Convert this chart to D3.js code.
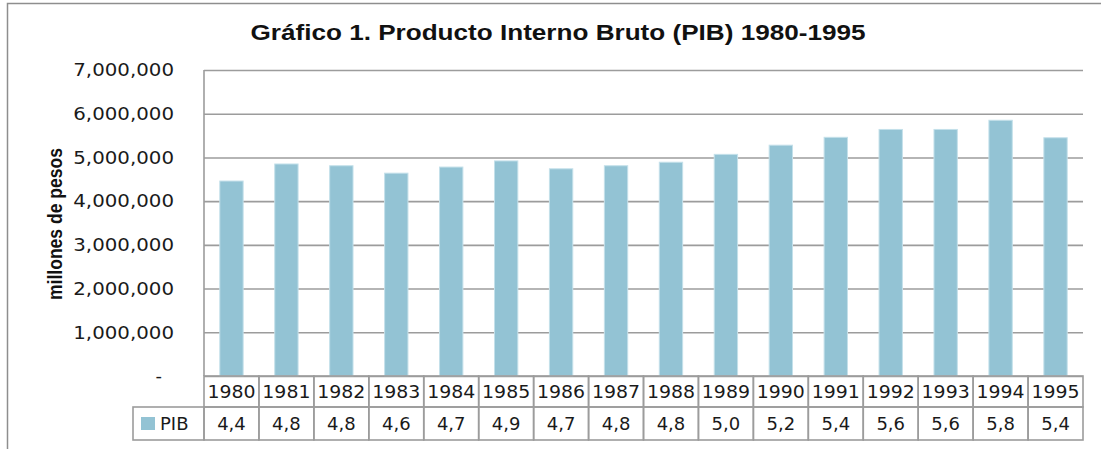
<!DOCTYPE html>
<html>
<head>
<meta charset="utf-8">
<script src="https://cdn.jsdelivr.net/npm/d3@7"></script>
<style>
  body { margin: 0; background: #fff; }
  svg { display: block; }
</style>
</head>
<body>
<svg id="chart" width="1101" height="449"></svg>
<script>
// data
const years = ['1980','1981','1982','1983','1984','1985','1986','1987','1988','1989','1990','1991','1992','1993','1994','1995']
const pib = [4460000, 4850000, 4810000, 4640000, 4780000, 4920000, 4740000, 4810000, 4890000, 5070000, 5280000, 5460000, 5640000, 5640000, 5850000, 5450000]
const tableLabels = ['4,4','4,8','4,8','4,6','4,7','4,9','4,7','4,8','4,8','5,0','5,2','5,4','5,6','5,6','5,8','5,4']
const yTicks = [0, 1000000, 2000000, 3000000, 4000000, 5000000, 6000000, 7000000]
const seriesName = 'PIB'
const title = 'Gráfico 1. Producto Interno Bruto (PIB) 1980-1995'
const yTitle = 'millones de pesos'

const svg = d3.select('#chart')
const grey = '#9c9c9c'
const barColor = '#93c3d4'
const numFont = '"DejaVu Sans", Verdana, sans-serif'

const plot = { left: 204, right: 1083, top: 70, bottom: 376 }
const rowH = [31, 33] // table rows: years, values
const legendLeft = 133

const x = d3.scaleBand().domain(years).range([plot.left, plot.right]).padding(0)
const y = d3.scaleLinear().domain([0, 7000000]).range([plot.bottom, plot.top])

// the original text is a bit wider than the fonts we have
function stretch(sel, k) {
  sel.each(function () {
    const w = this.getComputedTextLength()
    d3.select(this).attr('textLength', w * k).attr('lengthAdjust', 'spacingAndGlyphs')
  })
}

// outer frame (cut off at right / bottom)
svg.append('path')
  .attr('d', `M7.5,449 V3.5 H1101`)
  .attr('fill', 'none').attr('stroke', '#8e8e8e').attr('stroke-width', 1.5)

svg.append('text')
  .attr('x', 558).attr('y', 40)
  .attr('text-anchor', 'middle')
  .attr('textLength', 615).attr('lengthAdjust', 'spacingAndGlyphs')
  .style('font-family', '"Liberation Sans", Arial, sans-serif')
  .style('font-weight', 'bold').style('font-size', '22px')
  .attr('fill', '#111')
  .text(title)

// gridlines
const grid = svg.append('g')
  .attr('transform', `translate(${plot.left},0)`)
  .call(d3.axisLeft(y).tickValues(yTicks).tickSize(-(plot.right - plot.left)).tickFormat(''))
grid.select('.domain').remove()
grid.selectAll('line').attr('stroke', grey).attr('stroke-width', 1.6)

// left edge of plot area
svg.append('line')
  .attr('x1', plot.left).attr('x2', plot.left)
  .attr('y1', y(7000000)).attr('y2', y(0))
  .attr('stroke', grey).attr('stroke-width', 1.6)

// y axis labels
const yAxis = svg.append('g')
  .attr('transform', `translate(${plot.left},0)`)
  .call(d3.axisLeft(y).tickValues(yTicks).tickSize(0).tickPadding(30)
    .tickFormat(d => d === 0 ? '-' : d3.format(',')(d)))
yAxis.select('.domain').remove()
yAxis.selectAll('text')
  .style('font-family', numFont).style('font-size', '18px').attr('fill', '#1a1a1a')
  .attr('dx', d => d === 0 ? -12 : 0)
  .attr('dy', '0.32em')
stretch(yAxis.selectAll('text').filter(d => d !== 0), 1.1)

svg.append('text')
  .attr('transform', `translate(62,224) rotate(-90)`)
  .attr('text-anchor', 'middle')
  .attr('textLength', 152).attr('lengthAdjust', 'spacingAndGlyphs')
  .style('font-family', '"Liberation Sans Narrow", "Liberation Sans", Arial, sans-serif')
  .style('font-weight', 'bold').style('font-size', '20px')
  .attr('fill', '#111')
  .text(yTitle)

// bars
const barW = x.bandwidth() * 0.425
svg.append('g').selectAll('rect')
  .data(pib)
  .join('rect')
  .attr('x', (d, i) => x(years[i]) + (x.bandwidth() - barW) / 2)
  .attr('y', d => y(d))
  .attr('width', barW)
  .attr('height', d => y(0) - y(d))
  .attr('fill', barColor)
  .attr('stroke', '#c4e0ea').attr('stroke-width', 1)

// data table
const t = svg.append('g')
const row1 = y(0), row2 = row1 + rowH[0], row3 = row2 + rowH[1]

t.append('g').selectAll('rect')
  .data(years)
  .join('rect')
  .attr('x', d => x(d)).attr('y', row1)
  .attr('width', x.bandwidth()).attr('height', rowH[0])
  .attr('fill', 'none').attr('stroke', grey).attr('stroke-width', 1.6)

t.append('g').selectAll('rect')
  .data(years)
  .join('rect')
  .attr('x', d => x(d)).attr('y', row2)
  .attr('width', x.bandwidth()).attr('height', rowH[1])
  .attr('fill', 'none').attr('stroke', grey).attr('stroke-width', 1.6)

t.append('rect')
  .attr('x', legendLeft).attr('y', row2)
  .attr('width', plot.left - legendLeft).attr('height', rowH[1])
  .attr('fill', 'none').attr('stroke', grey).attr('stroke-width', 1.6)

t.append('rect')
  .attr('x', legendLeft + 8).attr('y', row2 + 10)
  .attr('width', 14).attr('height', 13)
  .attr('fill', barColor)

t.append('text')
  .attr('x', legendLeft + 27).attr('y', row2 + rowH[1] / 2)
  .attr('dy', '0.36em')
  .style('font-family', numFont).style('font-size', '18px').attr('fill', '#1a1a1a')
  .text(seriesName)

const yearText = t.append('g').selectAll('text')
  .data(years)
  .join('text')
  .attr('x', d => x(d) + x.bandwidth() / 2).attr('y', row1 + rowH[0] / 2)
  .attr('dy', '0.36em').attr('text-anchor', 'middle')
  .style('font-family', numFont).style('font-size', '18px').attr('fill', '#1a1a1a')
  .text(d => d)
stretch(yearText, 1.05)

t.append('g').selectAll('text')
  .data(tableLabels)
  .join('text')
  .attr('x', (d, i) => x(years[i]) + x.bandwidth() / 2).attr('y', row2 + rowH[1] / 2)
  .attr('dy', '0.36em').attr('text-anchor', 'middle')
  .style('font-family', numFont).style('font-size', '18px').attr('fill', '#1a1a1a')
  .text(d => d)
</script>
</body>
</html>
